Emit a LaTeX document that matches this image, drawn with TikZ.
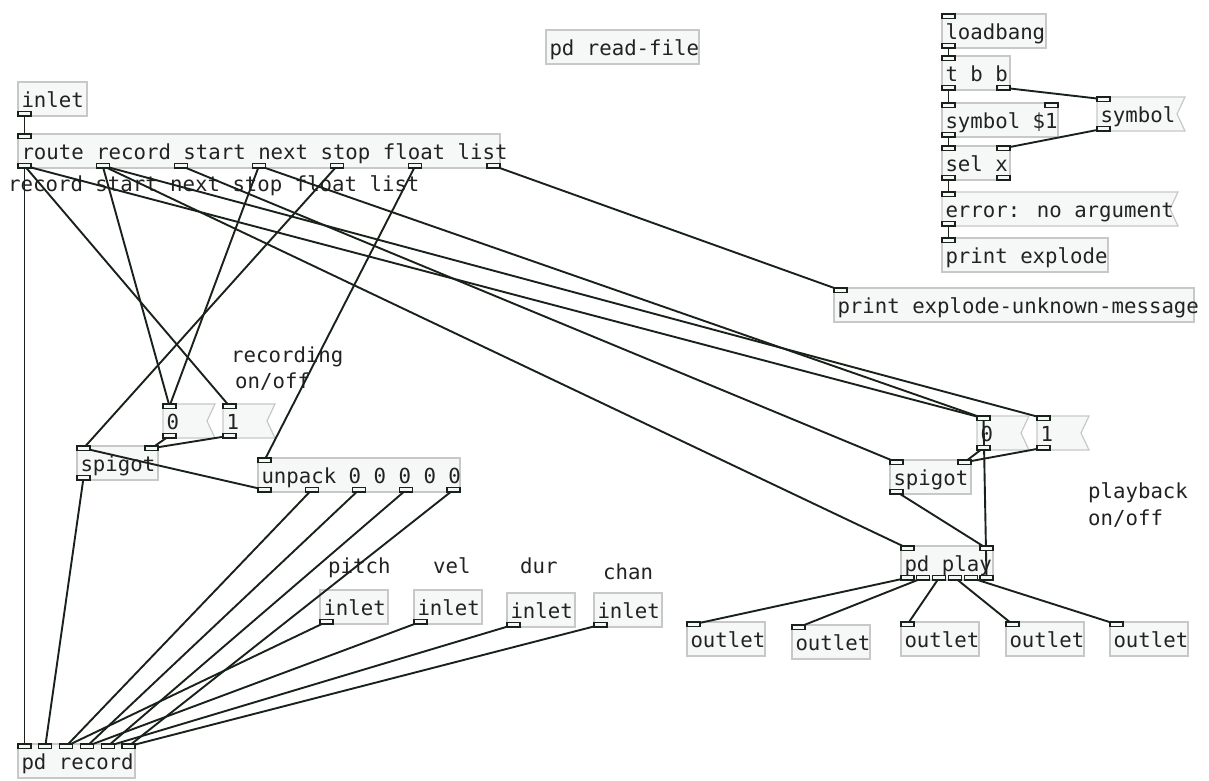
\documentclass[tikz,border=0pt]{standalone}
\usepackage{fontspec}
\newfontfamily\pdfont{DejaVu Sans Mono}
\pgfdeclarelayer{back}\pgfdeclarelayer{front}\pgfsetlayers{back,main,front}
\definecolor{boxline}{RGB}{200,200,200}
\definecolor{boxfill}{RGB}{246,248,248}
\definecolor{wirec}{RGB}{24,34,26}
\definecolor{ink}{RGB}{34,34,34}
\tikzset{
 pdtext/.style={font=\pdfont\fontsize{20.7}{24}\selectfont, text=ink},
 objbox/.style={pdtext, draw=boxline, fill=boxfill, line width=1.2pt, rectangle, inner xsep=3.5pt, inner ysep=0pt, text height=25.5pt, text depth=8.5pt, anchor=north west, outer sep=0pt},
 msgbox/.style={objbox, draw=none, fill=none},
 port/.style={draw=wirec, fill=boxfill, line width=1.2pt, minimum width=13pt, minimum height=4.5pt, inner sep=0pt, outer sep=0pt},
 wire/.style={draw=wirec, line width=1.9pt},
 cmt/.style={pdtext, anchor=base west, inner sep=0pt},
}
\newcommand\pdports[6]{%
 \begin{pgfonlayer}{front}
 \ifnum#5>0
  \pgfmathtruncatemacro\nn{#5-1}%
  \foreach \i in {0,...,\nn}{%
    \pgfmathsetmacro\px{#2+(#4-13)*\i/max(#5-1,1)}%
    \node[port,anchor=north west] (#1-i\i) at (\px,#3) {};
  }%
 \fi
 \ifnum#6>0
  \pgfmathtruncatemacro\nn{#6-1}%
  \foreach \i in {0,...,\nn}{%
    \pgfmathsetmacro\px{#2+(#4-13)*\i/max(#6-1,1)}%
    \node[port,anchor=south west] (#1-o\i) at (\px,#3+34) {};
  }%
 \fi
 \end{pgfonlayer}}
\newcommand\pdobj[7]{%
 \node[objbox] (#1) at (#2,#3) {\makebox[\dimexpr#4pt-7pt\relax][l]{#7}};
 \pdports{#1}{#2}{#3}{#4}{#5}{#6}}
\newcommand\pdmsg[7]{%
 \node[msgbox] (#1) at (#2,#3) {\makebox[\dimexpr#4pt-7pt\relax][l]{#7}};
 \begin{pgfonlayer}{back}
 \path[draw=boxline, fill=boxfill, line width=1.2pt] (#1.north west) -- (#1.north east) -- ([xshift=-8pt]#1.east) -- (#1.south east) -- (#1.south west) -- cycle;
 \end{pgfonlayer}
 \pdports{#1}{#2}{#3}{#4}{#5}{#6}}
\begin{document}
\begin{tikzpicture}[x=1pt,y=-1pt]
\useasboundingbox (0,0) rectangle (1209,780);
% objects
\pdobj{intop}{18}{82}{69}{0}{1}{inlet}
\pdobj{route}{18}{134}{482}{1}{7}{route record start next stop float list}
\pdobj{readfile}{546}{30}{153}{0}{0}{pd read-file}
\pdobj{lb}{942}{14}{104}{1}{1}{loadbang}
\pdobj{tbb}{942}{56}{68}{1}{2}{t b b}
\pdobj{sym1}{942}{103}{116}{2}{1}{symbol \$1}
\pdmsg{symmsg}{1097}{97}{88}{1}{1}{symbol}
\pdobj{selx}{942}{146}{68}{2}{2}{sel x}
\pdmsg{err}{942}{192}{236}{1}{1}{error: no argument}
\pdobj{prt}{942}{238}{166}{1}{0}{print explode}
\pdobj{prtunk}{834}{288}{360}{1}{0}{print explode-unknown-message}
\pdmsg{r0}{163}{404}{52}{1}{1}{0}
\pdmsg{r1}{223}{404}{52}{1}{1}{1}
\pdobj{spigR}{77}{446}{81}{2}{1}{spigot}
\pdobj{unpack}{258}{458}{202}{1}{5}{unpack 0 0 0 0 0}
\pdmsg{p0}{977}{416}{52}{1}{1}{0}
\pdmsg{p1}{1037}{416}{52}{1}{1}{1}
\pdobj{spigP}{890}{460}{81}{2}{1}{spigot}
\pdobj{pdplay}{901}{546}{92}{2}{6}{pd play}
\pdobj{inP}{320}{590}{68}{0}{1}{inlet}
\pdobj{inV}{414}{590}{68}{0}{1}{inlet}
\pdobj{inD}{507}{593}{68}{0}{1}{inlet}
\pdobj{inC}{594}{593}{68}{0}{1}{inlet}
\pdobj{outA}{687}{622}{78}{1}{0}{outlet}
\pdobj{outB}{792}{625}{78}{1}{0}{outlet}
\pdobj{outC}{901}{622}{78}{1}{0}{outlet}
\pdobj{outD}{1006}{622}{78}{1}{0}{outlet}
\pdobj{outE}{1110}{622}{78}{1}{0}{outlet}
\pdobj{pdrec}{18}{744}{117}{6}{0}{pd record}
% comments
\node[cmt] (c-route) at (8,191) {record start next stop float list};
\node[cmt] (c-rec1) at (231,362) {recording};
\node[cmt] (c-rec2) at (235,388) {on/off};
\node[cmt] (c-pb1) at (1088,498) {playback};
\node[cmt] (c-pb2) at (1088,525) {on/off};
\node[cmt] (c-pitch) at (328,573) {pitch};
\node[cmt] (c-vel) at (433,573) {vel};
\node[cmt] (c-dur) at (520,573) {dur};
\node[cmt] (c-chan) at (603,579) {chan};
% connections
\foreach \a/\b in {intop-o0/route-i0, route-o0/pdrec-i0, route-o0/r1-i0, route-o0/p0-i0,
  route-o1/r0-i0, route-o1/p1-i0, route-o1/pdplay-i0, route-o2/spigP-i0,
  route-o3/r0-i0, route-o3/p0-i0, route-o4/spigR-i0, route-o5/unpack-i0,
  route-o6/prtunk-i0, r0-o0/spigR-i1, r1-o0/spigR-i1, unpack-o0/spigR-i0,
  spigR-o0/pdrec-i1, unpack-o1/pdrec-i2, unpack-o2/pdrec-i3, unpack-o3/pdrec-i4,
  unpack-o4/pdrec-i5, inP-o0/pdrec-i2, inV-o0/pdrec-i3, inD-o0/pdrec-i4,
  inC-o0/pdrec-i5, p0-o0/spigP-i1, p1-o0/spigP-i1, spigP-o0/pdplay-i1,
  pdplay-o5/p0-i0, pdplay-o0/outA-i0, pdplay-o1/outB-i0, pdplay-o2/outC-i0,
  pdplay-o3/outD-i0, pdplay-o4/outE-i0, lb-o0/tbb-i0, tbb-o0/sym1-i0,
  tbb-o1/symmsg-i0, sym1-o0/selx-i0, symmsg-o0/selx-i1, selx-o0/err-i0, err-o0/prt-i0}
  \draw[wire] (\a.center) -- (\b.center);
\end{tikzpicture}
\end{document}
